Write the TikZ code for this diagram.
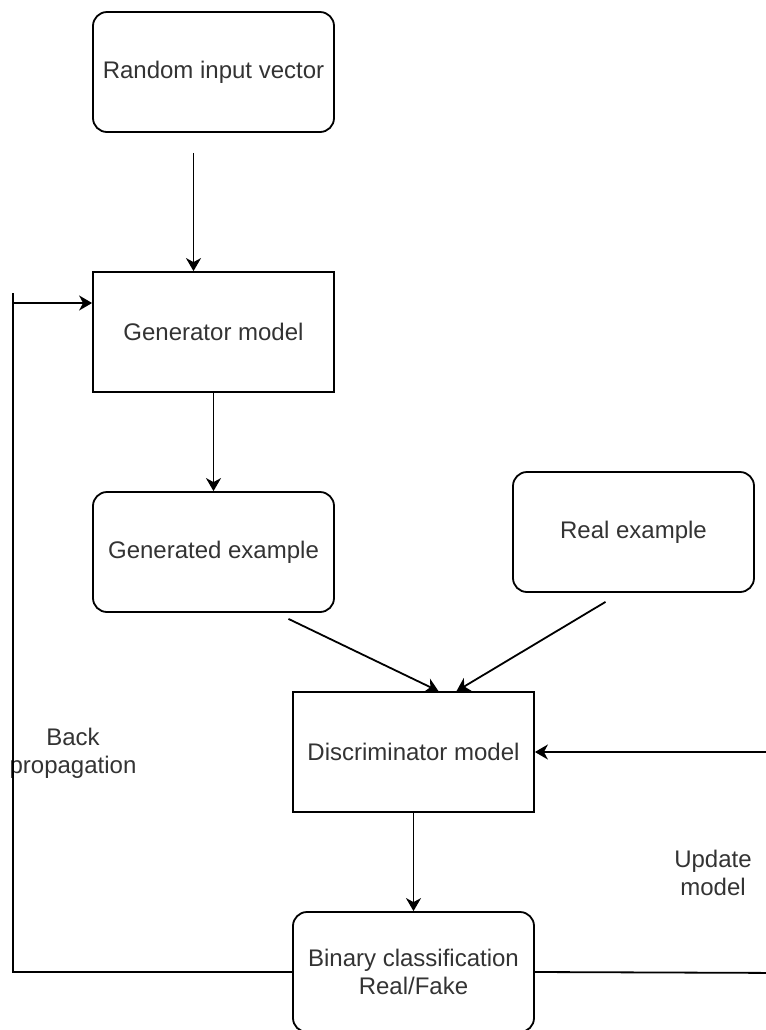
\documentclass[tikz,border=0pt]{standalone}
\usepackage{fontspec}
\setmainfont{Liberation Sans}
\usetikzlibrary{arrows.meta}

\begin{document}
\begin{tikzpicture}[x=0.5pt,y=-0.5pt,
	box/.style={draw=black,line width=0.9pt,minimum width=120.5pt,minimum height=60pt,inner sep=0pt,text=black!80,font=\fontsize{12}{14}\selectfont,align=center},
	roundbox/.style={box,rounded corners=7pt},
	lbl/.style={text=black!80,font=\fontsize{12}{14}\selectfont,align=center},
	arr/.style={-{Stealth[length=6.5pt,width=7.5pt,inset=2pt]},line width=0.9pt},
	link/.style={line width=0.9pt}]

	\clip (0,0) rectangle (766,1030);

	\node[roundbox] (rand)  at (213.5, 72)  {Random input vector};
	\node[box]      (gen)   at (213.5, 332) {Generator model};
	\node[roundbox] (gened) at (213.5, 552) {Generated example};
	\node[roundbox] (real)  at (633.5, 532) {Real example};
	\node[box]      (disc)  at (413.5, 752) {Discriminator model};
	\node[roundbox] (bin)   at (413.5, 972) {Binary classification\\Real/Fake};

	\node[lbl] (back) at (73, 753)  {Back\\propagation};
	\node[lbl] (upd)  at (713, 873) {Update\\model};

	\coordinate (bptop) at (13, 293);
	\coordinate (bpin)  at (13, 303);
	\coordinate (updr)  at (790, 973);

	\path[arr] ([shift={(-20,20)}]rand.south) edge ([shift={(-20,0)}]gen.north);
	\path[arr] (gen.south) edge (gened.north);
	\path[arr] ([shift={(75,6)}]gened.south) edge ([shift={(25,0)}]disc.north);
	\path[arr] ([shift={(-28,9)}]real.south) edge ([shift={(43,0)}]disc.north);
	\path[arr] (disc.south) edge (bin.north);
	\draw[link] (bin.west) -| (bptop);
	\draw[arr] (bpin) -- (bpin -| gen.west);
	\draw[arr] (bin.east) -- (updr) |- (disc.east);

\end{tikzpicture}
\end{document}
